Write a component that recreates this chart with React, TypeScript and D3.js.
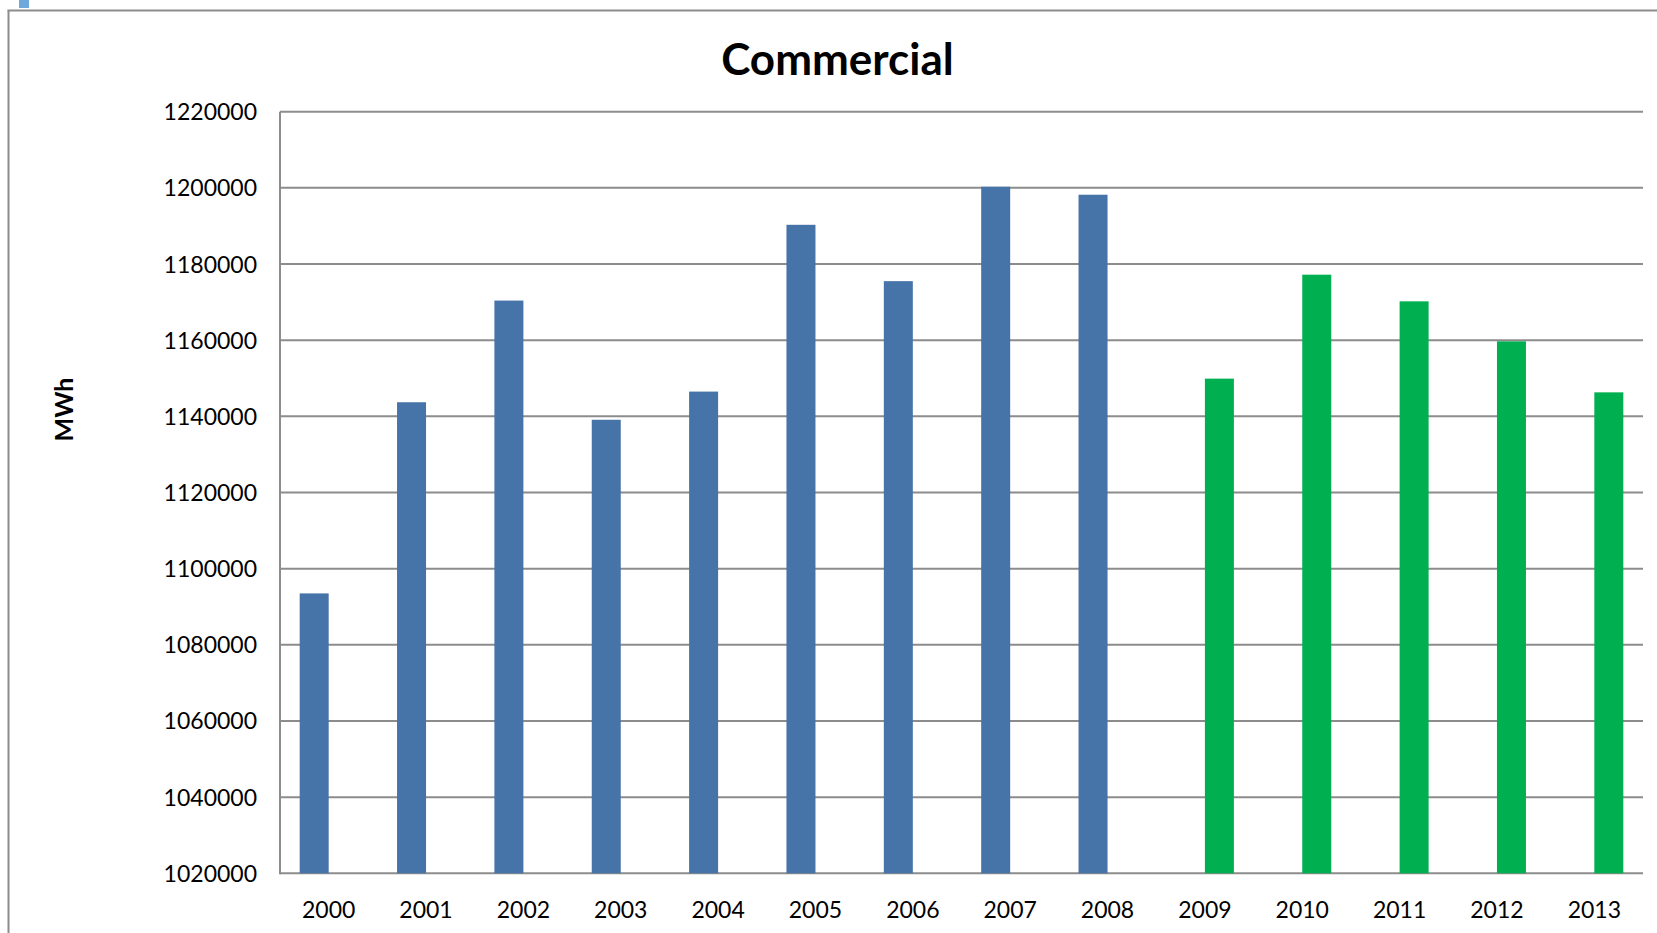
import React from "react";
import * as d3 from "d3";

const histYears = ["2000", "2001", "2002", "2003", "2004", "2005", "2006", "2007", "2008"];
const histValues = [1093500, 1143700, 1170400, 1139100, 1146500, 1190300, 1175500, 1200300, 1198200];
const projYears = ["2009", "2010", "2011", "2012", "2013"];
const projValues = [1149900, 1177200, 1170200, 1159700, 1146300];
const categories = [...histYears, ...projYears];
const yTicks = [1020000, 1040000, 1060000, 1080000, 1100000, 1120000, 1140000, 1160000, 1180000, 1200000, 1220000];
const seriesKeys = ["hist", "proj"];
const title = "Commercial";
const yTitle = "MWh";

const W = 1657;
const H = 933;
const plot = { left: 280, right: 1643, top: 111.7, bottom: 873.3 };
const FONT = "Lato, 'Open Sans', sans-serif";
const GRID = "#8c8c8c";
const BLUE = "#4673a8";
const GREEN = "#00b050";

export default function App() {
  const x = d3.scaleBand<string>().domain(categories).range([plot.left, plot.right]).padding(0);
  const xs = d3
    .scaleBand<string>()
    .domain(seriesKeys)
    .range([0, x.bandwidth()])
    .paddingInner(0)
    .paddingOuter(0.6786);
  const y = d3.scaleLinear().domain([1020000, 1220000]).range([plot.bottom, plot.top]);

  const bars = [
    ...histYears.map((c, i) => ({ c, v: histValues[i], k: "hist", color: BLUE })),
    ...projYears.map((c, i) => ({ c, v: projValues[i], k: "proj", color: GREEN })),
  ];

  return (
    <svg
      width={W}
      height={H}
      style={{ position: "absolute", left: 0, top: 0, background: "#fff" }}
      fontFamily={FONT}
    >
      <rect x={0} y={0} width={W} height={H} fill="#fff" />
      {/* small selection marker */}
      <rect x={19} y={0} width={10} height={8} fill="#6fa8dc" />
      {/* chart outer border (partly cut off) */}
      <line x1={8.5} y1={10.5} x2={8.5} y2={H + 5} stroke={GRID} strokeWidth={2} />
      <line x1={7.5} y1={10.5} x2={W + 5} y2={10.5} stroke={GRID} strokeWidth={2} />

      {/* title */}
      <text x={837.5} y={75} textAnchor="middle" fontSize={44} fontWeight="bold" fill="#000">
        {title}
      </text>

      {/* y axis title */}
      <text
        transform={`translate(73, 409.5) rotate(-90)`}
        textAnchor="middle"
        fontSize={25}
        fontWeight="bold"
        fill="#000"
      >
        {yTitle}
      </text>

      {/* gridlines */}
      {yTicks.map((t) => (
        <line key={t} x1={plot.left} x2={plot.right} y1={y(t)} y2={y(t)} stroke={GRID} strokeWidth={2} />
      ))}
      {/* y axis line */}
      <line x1={plot.left} x2={plot.left} y1={plot.top} y2={plot.bottom + 1} stroke={GRID} strokeWidth={2} />

      {/* y tick labels */}
      {yTicks.map((t) => (
        <text key={"l" + t} x={257} y={y(t) + 8.5} textAnchor="end" fontSize={23} fill="#000">
          {String(t)}
        </text>
      ))}

      {/* bars */}
      {bars.map((b) => {
        const bx = (x(b.c) as number) + (xs(b.k) as number);
        return (
          <rect
            key={b.c}
            x={bx}
            y={y(b.v)}
            width={xs.bandwidth()}
            height={y(1020000) - y(b.v)}
            fill={b.color}
          />
        );
      })}

      {/* x tick labels */}
      {categories.map((c) => (
        <text
          key={"x" + c}
          x={(x(c) as number) + x.bandwidth() / 2}
          y={918.3}
          textAnchor="middle"
          fontSize={23}
          fill="#000"
        >
          {c}
        </text>
      ))}
    </svg>
  );
}
